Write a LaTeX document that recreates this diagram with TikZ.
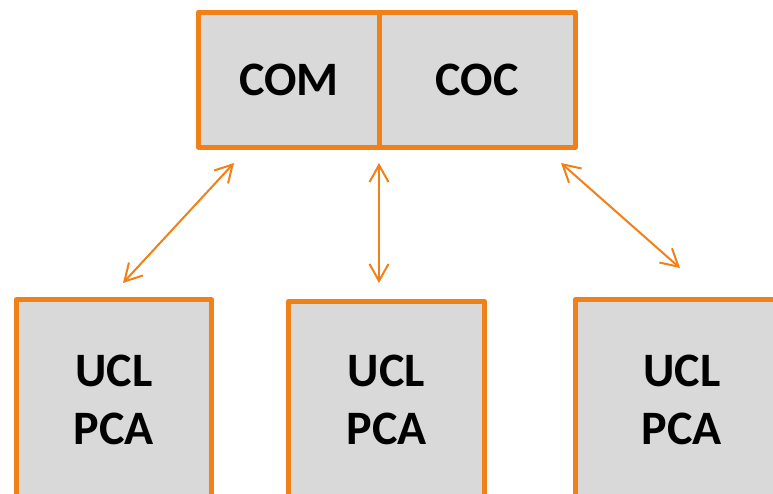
\documentclass[tikz,border=0pt]{standalone}
\usepackage{fontspec}
\setmainfont{Carlito}
\usetikzlibrary{arrows.meta}
\definecolor{org}{HTML}{F08018}
\definecolor{boxgray}{HTML}{D9D9D9}
\tikzset{
  box/.style={draw=org, fill=boxgray, line width=5pt, inner sep=0pt, outer sep=0pt,
    font=\fontsize{48}{58}\selectfont\bfseries, align=center, line join=round},
  link/.style={draw=org, line width=2pt,
    {Straight Barb[length=17pt,width=19pt,line width=2pt]}-{Straight Barb[length=17pt,width=19pt,line width=2pt]}}
}
\begin{document}
\begin{tikzpicture}[x=1pt,y=-1pt]
\useasboundingbox (0,0) rectangle (773,493);
\clip (0,0) rectangle (773,493);
\fill[white] (0,0) rectangle (773,493);
% top pair
\node[box, minimum width=180.5pt, minimum height=135pt] (com) at (288.75,79.5) {COM};
\node[box, minimum width=196.5pt, minimum height=135pt] (coc) at (477.25,79.5) {COC};
% bottom boxes
\node[box, minimum width=195pt, minimum height=200pt] (u1) at (114,399.5) {UCL\\PCA};
\node[box, minimum width=196pt, minimum height=196pt] (u2) at (386.5,399.5) {UCL\\PCA};
\node[box, minimum width=213pt, minimum height=200pt] (u3) at (682,399.5) {UCL\\PCA};
% arrow ends
\coordinate (a1t) at (234,163);
\coordinate (a1b) at (123,283);
\coordinate (a2t) at (379,163);
\coordinate (a2b) at (379,283);
\coordinate (a3t) at (561,163);
\coordinate (a3b) at (680,268);
\draw[link] (a1t) -- (a1b);
\draw[link] (a2t) -- (a2b);
\draw[link] (a3t) -- (a3b);
\end{tikzpicture}
\end{document}
